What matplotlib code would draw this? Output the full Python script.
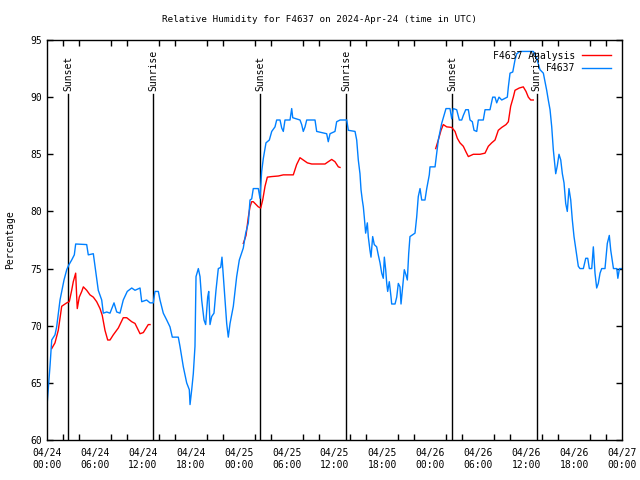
import numpy as np
import matplotlib
matplotlib.use('Agg')
import matplotlib.pyplot as plt

# hours since 2024-04-24 00:00 UTC
obsHours = [0.0, 0.38, 0.59, 1.0, 1.21, 1.63, 2.13, 2.47, 2.72, 3.09, 3.42, 3.59, 4.97, 5.17, 5.80,
            6.01, 6.42, 6.85, 7.05, 7.48, 7.89, 8.39, 8.73, 9.14, 9.55, 10.05, 10.61, 11.02, 11.65,
            11.86, 12.48, 12.90, 13.31, 13.52, 13.94, 14.15, 14.56, 14.99, 15.40, 15.69, 16.44,
            16.65, 17.07, 17.49, 17.82, 17.91, 18.12, 18.32, 18.53, 18.66, 18.95, 19.16, 19.37,
            19.66, 19.87, 20.12, 20.25, 20.41, 20.62, 20.91, 21.16, 21.45, 21.75, 21.91, 22.08,
            22.29, 22.50, 22.70, 22.92, 23.33, 23.75, 24.08, 24.58, 24.88, 25.21, 25.42, 25.63,
            25.83, 26.46, 26.67, 26.88, 27.09, 27.30, 27.42, 27.84, 28.14, 28.55, 28.76, 29.18,
            29.39, 29.59, 29.80, 30.43, 30.64, 30.77, 31.68, 31.89, 32.09, 32.31, 32.52, 33.56,
            33.77, 35.02, 35.22, 35.44, 36.06, 36.27, 36.70, 37.53, 37.73, 38.57, 38.78, 38.98,
            39.19, 39.32, 39.48, 39.61, 39.73, 39.82, 39.90, 40.11, 40.23, 40.44, 40.57, 40.78,
            40.98, 41.28, 41.48, 41.70, 41.91, 42.11, 42.24, 42.41, 42.54, 42.66, 42.86, 43.08,
            43.16, 43.58, 43.79, 43.99, 44.20, 44.33, 44.54, 44.74, 44.95, 45.12, 45.29, 45.45,
            46.08, 46.29, 46.49, 46.71, 46.92, 47.33, 47.55, 47.75, 47.87, 47.96, 48.59, 49.00,
            49.42, 49.71, 49.96, 50.46, 50.68, 50.87, 51.30, 51.63, 51.93, 52.13, 52.43, 52.76,
            52.97, 53.26, 53.47, 53.81, 54.01, 54.63, 54.85, 55.47, 55.81, 56.10, 56.31, 56.60,
            56.94, 57.64, 57.77, 57.98, 58.32, 58.60, 58.82, 59.23, 60.90, 61.32, 61.73, 62.15,
            62.57, 62.77, 62.99, 63.20, 63.40, 63.53, 63.70, 63.90, 64.11, 64.33, 64.53, 64.74,
            64.95, 65.15, 65.36, 65.58, 65.78, 65.99, 66.24, 66.53, 66.74, 67.16, 67.46, 67.71,
            67.91, 68.21, 68.41, 68.62, 68.83, 69.03, 69.25, 69.46, 69.87, 70.16, 70.41, 70.59,
            70.93, 71.35, 71.48, 71.68, 72.0]
obsRH = [63.0, 66.5, 68.75, 69.2, 69.9, 72.25, 74.0, 74.9, 75.3, 75.75, 76.2, 77.15, 77.1, 76.2, 76.3,
         75.2, 73.1, 72.25, 71.1, 71.2, 71.1, 72.0, 71.2, 71.1, 72.25, 73.0, 73.3, 73.1, 73.3,
         72.1, 72.25, 72.0, 72.0, 73.0, 73.0, 72.25, 71.1, 70.5, 69.9, 69.0, 69.0,
         68.2, 66.4, 65.0, 64.4, 63.1, 64.4, 65.8, 68.2, 74.3, 75.0, 74.3, 72.25,
         70.5, 70.1, 72.5, 73.0, 70.1, 70.8, 71.1, 73.1, 75.0, 75.1, 76.0, 74.3,
         72.25, 70.2, 69.0, 70.2, 71.7, 74.3, 75.75, 76.8, 78.1, 79.0, 81.0, 81.1,
         82.0, 82.0, 81.15, 83.5, 84.65, 85.5, 86.0, 86.25, 87.0, 87.4, 88.0, 88.0,
         87.3, 87.0, 88.0, 88.0, 89.0, 88.2, 88.0, 87.6, 87.0, 87.4, 88.0, 88.0,
         87.0, 86.8, 86.1, 86.8, 87.0, 87.85, 88.0, 88.0, 87.1, 87.0, 86.25, 84.5,
         83.3, 81.9, 81.0, 80.4, 79.5, 78.7, 78.1, 79.0, 77.8, 76.6, 76.0, 77.8,
         77.1, 76.9, 76.2, 75.5, 74.6, 74.15, 76.0, 74.9, 73.7, 73.0, 73.85, 72.5,
         71.9, 71.9, 72.5, 73.7, 73.4, 71.9, 73.4, 74.9, 74.45, 74.0, 76.3, 77.8,
         78.1, 79.5, 81.3, 82.0, 81.0, 81.0, 82.0, 82.75, 83.2, 83.9, 83.9, 86.25,
         87.7, 88.4, 89.0, 89.0, 88.1, 89.0, 88.9, 88.0, 88.0, 88.4, 88.9, 88.9,
         88.0, 87.85, 87.1, 87.0, 88.0, 88.0, 88.9, 88.9, 90.0, 90.0, 89.5, 90.0,
         89.75, 90.0, 90.9, 92.1, 92.2, 93.25, 93.8, 94.0, 94.0, 93.4, 92.4, 92.1,
         90.6, 89.75, 88.9, 87.4, 85.4, 84.5, 83.3, 84.0, 85.0, 84.5, 83.3, 82.5,
         80.7, 80.0, 82.0, 81.0, 79.25, 77.8, 76.6, 75.2, 75.0, 75.0, 75.9, 75.9,
         75.0, 75.0, 76.9, 74.6, 73.3, 73.7, 74.6, 75.0, 75.0, 77.2, 77.9, 76.6,
         75.0, 75.0, 74.15, 75.0, 75.0]

# analysis, three separate runs (NaN = gap)
anaHours = [0.59, 1.0, 1.41, 1.72, 1.84, 2.47, 2.79, 3.09, 3.29, 3.59, 3.72, 3.79, 4.04, 4.35, 4.55,
            4.97, 5.38, 5.80, 6.22, 6.64, 6.92, 7.26, 7.60, 7.89, 8.30, 8.93, 9.55, 9.98, 10.61,
            11.02, 11.65, 12.06, 12.68, 12.90, 18.0,
            24.58, 24.92, 25.21, 25.42, 25.63, 25.83, 26.46, 26.76, 27.01, 27.30, 27.59, 28.14,
            28.97, 29.59, 30.84, 31.26, 31.68, 32.09, 32.60, 33.15, 34.81, 35.22, 35.65, 36.06,
            36.48, 36.69, 42.0,
            48.67, 49.00, 49.34, 49.62, 50.05, 50.68, 51.09, 51.38, 51.71, 52.13, 52.47, 52.76,
            53.38, 54.22, 54.85, 55.26, 55.68, 56.10, 56.51, 56.94, 57.48, 57.77, 58.06, 58.39,
            58.60, 59.14, 59.64, 59.98, 60.27, 60.57, 60.89]
anaRH = [68.0, 68.5, 69.6, 71.1, 71.7, 72.0, 72.1, 73.1, 73.85, 74.6, 72.5, 71.5, 72.5, 73.0, 73.4,
         73.1, 72.7, 72.5, 72.1, 71.5, 70.9, 69.6, 68.75, 68.75, 69.2, 69.8, 70.7, 70.7, 70.35,
         70.2, 69.3, 69.4, 70.1, 70.1, np.nan,
         77.2, 77.9, 79.5, 80.4, 80.85, 80.85, 80.4, 80.3, 81.0, 82.2, 83.0, 83.05,
         83.1, 83.2, 83.2, 84.1, 84.7, 84.5, 84.25, 84.15, 84.15, 84.35, 84.55, 84.35,
         83.9, 83.85, np.nan,
         85.5, 86.25, 87.1, 87.6, 87.4, 87.35, 87.0, 86.4, 86.0, 85.7, 85.2, 84.8,
         85.0, 85.0, 85.1, 85.7, 86.0, 86.25, 87.1, 87.35, 87.6, 87.85, 89.2, 90.0,
         90.6, 90.8, 90.9, 90.5, 90.0, 89.75, 89.75]

sunHours = [2.63, 13.31, 26.67, 37.44, 50.72, 61.30]
sunNames = ['Sunset', 'Sunrise', 'Sunset', 'Sunrise', 'Sunset', 'Sunrise']

tickHours = np.arange(0, 73, 6)
tickLabels = ['04/24\n00:00', '04/24\n06:00', '04/24\n12:00', '04/24\n18:00',
              '04/25\n00:00', '04/25\n06:00', '04/25\n12:00', '04/25\n18:00',
              '04/26\n00:00', '04/26\n06:00', '04/26\n12:00', '04/26\n18:00', '04/27\n00:00']

plt.rcParams['font.family'] = ['DejaVu Sans Mono']
plt.rcParams['font.size'] = 7

fig = plt.figure(figsize=(6.4, 4.8), dpi=100)
ax = fig.add_axes([47/640, 40/480, 575/640, 400/480])

for h, name in zip(sunHours, sunNames):
    ax.plot([h, h], [60, 90.3], color='black', linewidth=1)
    ax.text(h, 90.5, name, rotation=90, ha='center', va='bottom', fontsize=7)

ax.plot(anaHours, anaRH, color='#ff0000', linewidth=1, label='F4637 Analysis')
ax.plot(obsHours, obsRH, color='#0080ff', linewidth=1, label='F4637')

ax.set_xlim(0, 72)
ax.set_ylim(60, 95)
ax.set_xticks(tickHours)
ax.set_xticklabels(tickLabels)
ax.set_xticks(np.arange(0, 73, 2), minor=True)
ax.set_yticks(np.arange(60, 96, 5))
ax.tick_params(axis='both', which='both', direction='in', top=True, right=True,
               length=4, width=1, labelsize=7)
ax.tick_params(axis='x', which='major', length=0, pad=6)
for s in ax.spines.values():
    s.set_linewidth(1)

fig.text(0.5, 1 - 19/480, 'Relative Humidity for F4637 on 2024-Apr-24 (time in UTC)',
         fontsize=6.7, ha='center', va='center')
ax.set_ylabel('Percentage', fontsize=7, labelpad=11)
ax.legend(loc='upper right', frameon=False, markerfirst=False, fontsize=7,
          handlelength=3.0, handletextpad=0.7, labelspacing=0.25, borderaxespad=0.7)

plt.savefig('out.png', dpi=100)
